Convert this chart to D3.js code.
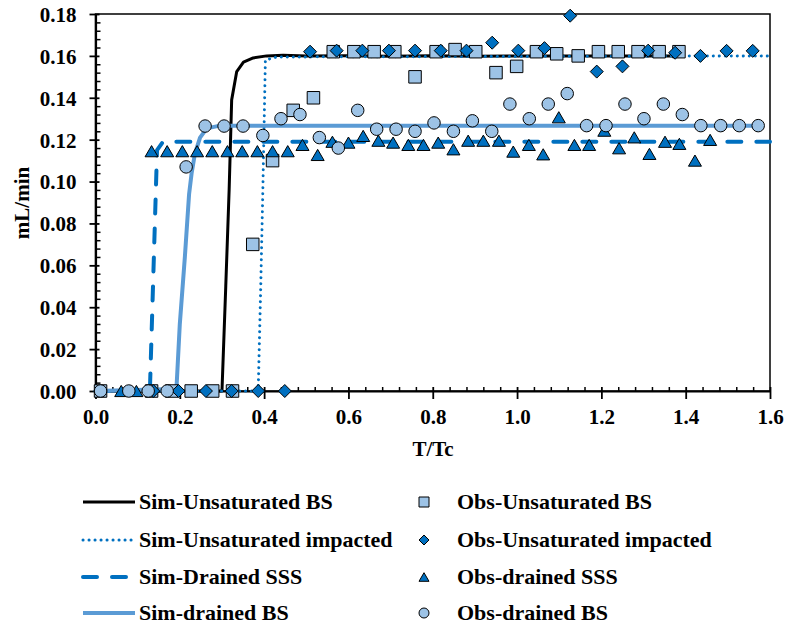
<!DOCTYPE html>
<html><head><meta charset="utf-8">
<script src="https://cdn.jsdelivr.net/npm/d3@7"></script>
<style>body{margin:0;background:#fff}svg{display:block}</style>
</head><body><svg id="c" width="788" height="629"></svg>
<script>
// ---------- DATA ----------
const xTicks = [0, 0.2, 0.4, 0.6, 0.8, 1.0, 1.2, 1.4, 1.6];
const yTicks = [0, 0.02, 0.04, 0.06, 0.08, 0.10, 0.12, 0.14, 0.16, 0.18];
const xLabel = "T/Tc";
const yLabel = "mL/min";

// Simulated curves
const simUnsatBS_T = [0, 0.300, 0.309, 0.317, 0.323, 0.335, 0.351, 0.374, 0.406, 0.445, 0.50, 0.60, 0.70, 0.80, 0.90, 1.00, 1.10, 1.20, 1.30, 1.39];
const simUnsatBS_v = [0, 0, 0.050, 0.096, 0.139, 0.1525, 0.157, 0.159, 0.160, 0.1603, 0.1600, 0.1601, 0.1598, 0.1601, 0.1598, 0.1600, 0.1599, 0.1600, 0.1600, 0.1600];
const simUnsatImp_T = [0, 0.386, 0.392, 0.397, 0.403, 0.43, 1.6];
const simUnsatImp_v = [0, 0, 0.050, 0.096, 0.158, 0.1595, 0.160];
const simDrainSSS_T = [0, 0.129, 0.146, 0.16, 1.6];
const simDrainSSS_v = [0, 0, 0.115, 0.119, 0.119];
const simDrainBS_T = [0, 0.192, 0.200, 0.212, 0.222, 0.228, 0.236, 0.248, 0.264, 0.295, 1.572];
const simDrainBS_v = [0, 0.001, 0.032, 0.064, 0.094, 0.104, 0.1135, 0.121, 0.1254, 0.1267, 0.1267];

// Observations
const obsUnsatBS_T = [0.012, 0.133, 0.181, 0.227, 0.278, 0.325, 0.373, 0.420, 0.469, 0.517, 0.564, 0.613, 0.661, 0.710, 0.758, 0.808, 0.853, 0.902, 0.950, 0.999, 1.046, 1.094, 1.145, 1.193, 1.240, 1.287, 1.337, 1.384];
const obsUnsatBS_v = [0, 0, 0, 0, 0, 0, 0.070, 0.110, 0.134, 0.140, 0.162, 0.162, 0.162, 0.162, 0.150, 0.162, 0.163, 0.162, 0.152, 0.155, 0.162, 0.161, 0.160, 0.162, 0.162, 0.162, 0.162, 0.162];
const obsUnsatImp_T = [0.137, 0.197, 0.262, 0.323, 0.386, 0.449, 0.509, 0.572, 0.633, 0.696, 0.758, 0.819, 0.880, 0.941, 1.003, 1.065, 1.126, 1.189, 1.250, 1.311, 1.375, 1.435, 1.497, 1.559];
const obsUnsatImp_v = [0, 0, 0, 0, 0, 0, 0.162, 0.1625, 0.1625, 0.1625, 0.1625, 0.1625, 0.1625, 0.1663, 0.1625, 0.1637, 0.1792, 0.1525, 0.155, 0.1625, 0.1615, 0.160, 0.1624, 0.1624];
const obsDrainSSS_T = [0.061, 0.097, 0.133, 0.170, 0.206, 0.241, 0.277, 0.313, 0.348, 0.384, 0.420, 0.456, 0.491, 0.527, 0.562, 0.600, 0.635, 0.671, 0.706, 0.742, 0.778, 0.813, 0.849, 0.884, 0.920, 0.957, 0.991, 1.028, 1.062, 1.099, 1.136, 1.171, 1.207, 1.242, 1.278, 1.314, 1.351, 1.385, 1.422, 1.458];
const obsDrainSSS_v = [0, 0, 0.1145, 0.1145, 0.1145, 0.1145, 0.1145, 0.1145, 0.1145, 0.1145, 0.1145, 0.1145, 0.1175, 0.1127, 0.119, 0.1186, 0.1218, 0.1195, 0.1186, 0.1175, 0.1175, 0.1186, 0.1154, 0.1195, 0.1195, 0.1195, 0.1143, 0.1175, 0.113, 0.1307, 0.1175, 0.1175, 0.1243, 0.1159, 0.1211, 0.1132, 0.119, 0.118, 0.110, 0.1199];
const obsDrainBS_T = [0.012, 0.079, 0.125, 0.170, 0.215, 0.260, 0.305, 0.350, 0.397, 0.440, 0.485, 0.531, 0.576, 0.622, 0.667, 0.713, 0.758, 0.803, 0.849, 0.894, 0.940, 0.983, 1.029, 1.074, 1.119, 1.165, 1.211, 1.256, 1.301, 1.347, 1.392, 1.436, 1.483, 1.527, 1.572];
const obsDrainBS_v = [0, 0, 0, 0, 0.107, 0.1265, 0.1265, 0.1265, 0.122, 0.130, 0.132, 0.121, 0.116, 0.134, 0.125, 0.125, 0.124, 0.128, 0.124, 0.129, 0.124, 0.137, 0.130, 0.137, 0.142, 0.1267, 0.1267, 0.137, 0.130, 0.137, 0.132, 0.1267, 0.1267, 0.1267, 0.1267];

const simNames = ["Sim-Unsaturated BS", "Sim-Unsaturated impacted", "Sim-Drained SSS", "Sim-drained BS"];
const obsNames = ["Obs-Unsaturated BS", "Obs-Unsaturated impacted", "Obs-drained SSS", "Obs-drained BS"];

// ---------- STYLES ----------
const DARK = "#0070C0", LIGHT = "#9DC3E6", MID = "#5B9BD5";
const FONT = "'Liberation Serif','Times New Roman',serif";
const simStyles = [
  {stroke: "#000", width: 3, dash: null, cap: "butt"},
  {stroke: DARK, width: 3, dash: "0.1,5.9", cap: "round"},
  {stroke: DARK, width: 4, dash: "14,15", cap: "round"},
  {stroke: MID, width: 4, dash: null, cap: "butt"}
];
const obsStyles = [
  {shape: "square", fill: LIGHT, size: 12.5},
  {shape: "diamond", fill: DARK, size: 13},
  {shape: "triangle", fill: DARK, size: 13},
  {shape: "circle", fill: LIGHT, size: 12.5}
];

const svg = d3.select("#c");
const x = d3.scaleLinear().domain([0, 1.6]).range([95.5, 770]);
const y = d3.scaleLinear().domain([0, 0.18]).range([391, 14]);

function zip(T, v) { return T.map((t, i) => ({t, v: v[i]})); }
const simData = [zip(simUnsatBS_T, simUnsatBS_v), zip(simUnsatImp_T, simUnsatImp_v), zip(simDrainSSS_T, simDrainSSS_v), zip(simDrainBS_T, simDrainBS_v)];
const obsData = [zip(obsUnsatBS_T, obsUnsatBS_v), zip(obsUnsatImp_T, obsUnsatImp_v), zip(obsDrainSSS_T, obsDrainSSS_v), zip(obsDrainBS_T, obsDrainBS_v)];

function markerPath(shape, s) {
  if (shape === "square") return d3.symbol(d3.symbolSquare, s * s)();
  if (shape === "diamond") { const h = s / 2; return `M0,${-h}L${h},0L0,${h}L${-h},0Z`; }
  if (shape === "triangle") { const h = s * 0.43, w = s / 2; return `M0,${-h}L${w},${h}L${-w},${h}Z`; }
  return d3.symbol(d3.symbolCircle, Math.PI * (s / 2) * (s / 2))();
}

// frame
svg.append("rect").attr("x", x(0)).attr("y", y(0.18)).attr("width", x(1.6) - x(0)).attr("height", y(0) - y(0.18))
  .attr("fill", "none").attr("stroke", "#000").attr("stroke-width", 1.5);

// minor ticks
const xMinor = d3.range(0, 1.6001, 0.04).filter(d => Math.abs(d / 0.2 - Math.round(d / 0.2)) > 1e-6);
const yMinor = d3.range(0, 0.18001, 0.004).filter(d => Math.abs(d / 0.02 - Math.round(d / 0.02)) > 1e-6);
svg.append("g").attr("transform", `translate(0,${y(0)})`)
  .call(d3.axisBottom(x).tickValues(xMinor).tickSize(-4).tickSizeOuter(0).tickFormat(""))
  .call(g => g.select(".domain").remove())
  .selectAll("line").attr("stroke", "#000").attr("stroke-width", 1.5);
svg.append("g").attr("transform", `translate(${x(0)},0)`)
  .call(d3.axisLeft(y).tickValues(yMinor).tickSize(-5).tickSizeOuter(0).tickFormat(""))
  .call(g => g.select(".domain").remove())
  .selectAll("line").attr("stroke", "#000").attr("stroke-width", 1.5);

// major axes
const gx = svg.append("g").attr("transform", `translate(0,${y(0)})`)
  .call(d3.axisBottom(x).tickValues(xTicks).tickSizeOuter(0).tickFormat(d3.format(".1f")));
gx.select(".domain").attr("stroke-width", 2.2);
gx.selectAll(".tick line").attr("y1", -4).attr("y2", 8).attr("stroke-width", 1.8);
gx.selectAll(".tick text").attr("y", 33).attr("dy", 0)
  .style("font-family", FONT).style("font-weight", "bold").style("font-size", "21px").attr("fill", "#000");

const gy = svg.append("g").attr("transform", `translate(${x(0)},0)`)
  .call(d3.axisLeft(y).tickValues(yTicks).tickSizeOuter(0).tickFormat(d3.format(".2f")));
gy.select(".domain").attr("stroke-width", 2.2);
gy.selectAll(".tick line").attr("x1", -6).attr("x2", 4).attr("stroke-width", 1.8);
gy.selectAll(".tick text").attr("x", -19).attr("dy", "0.35em")
  .style("font-family", FONT).style("font-weight", "bold").style("font-size", "21px").attr("fill", "#000");

// axis titles
svg.append("text").attr("x", 433).attr("y", 456).attr("text-anchor", "middle")
  .style("font-family", FONT).style("font-weight", "bold").style("font-size", "21px").text(xLabel);
svg.append("text").attr("transform", "translate(29,203) rotate(-90)").attr("text-anchor", "middle")
  .style("font-family", FONT).style("font-weight", "bold").style("font-size", "21px").text(yLabel);

// sim lines
const line = d3.line().x(d => x(d.t)).y(d => y(d.v));
simData.forEach((data, i) => {
  const s = simStyles[i];
  svg.append("path").datum(data).attr("d", line).attr("fill", "none")
    .attr("stroke", s.stroke).attr("stroke-width", s.width)
    .attr("stroke-dasharray", s.dash).attr("stroke-linecap", s.cap).attr("stroke-linejoin", "round");
});

// observations
obsData.forEach((data, i) => {
  const s = obsStyles[i];
  svg.append("g").selectAll("path").data(data).join("path")
    .attr("d", markerPath(s.shape, s.size))
    .attr("transform", d => `translate(${x(d.t)},${y(d.v)})`)
    .attr("fill", s.fill).attr("stroke", "#000").attr("stroke-width", 1);
});

// legend
const legY = [502, 540, 577, 613];
simNames.forEach((name, i) => {
  const s = simStyles[i];
  svg.append("line").attr("x1", 83).attr("x2", 135).attr("y1", legY[i]).attr("y2", legY[i])
    .attr("stroke", s.stroke).attr("stroke-width", s.width)
    .attr("stroke-dasharray", s.dash).attr("stroke-linecap", s.cap);
  svg.append("text").attr("x", 139).attr("y", legY[i] + 7)
    .style("font-family", FONT).style("font-weight", "bold").style("font-size", "22px").text(name);
});
obsNames.forEach((name, i) => {
  const s = obsStyles[i];
  svg.append("path").attr("d", markerPath(s.shape, 10)).attr("transform", `translate(424,${legY[i]})`)
    .attr("fill", s.fill).attr("stroke", "#000").attr("stroke-width", 1);
  svg.append("text").attr("x", 457).attr("y", legY[i] + 7)
    .style("font-family", FONT).style("font-weight", "bold").style("font-size", "22px").text(name);
});
</script></body></html>
